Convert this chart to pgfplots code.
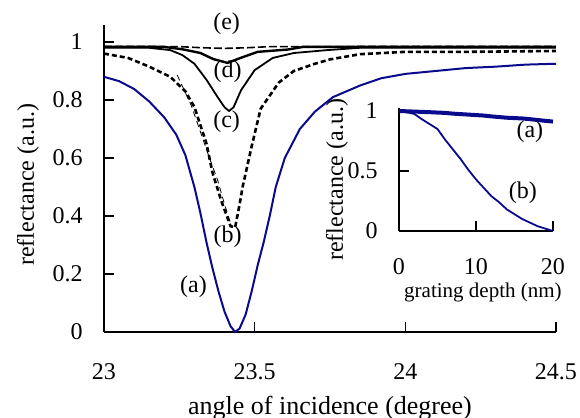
\documentclass[border=0pt]{standalone}
\usepackage{pgfplots}
\pgfplotsset{compat=1.18}
\usepackage{fontspec}
\setmainfont{Liberation Serif}
\definecolor{navy}{RGB}{10,10,140}

\begin{document}
\begin{tikzpicture}
\pgfplotsset{
  excel/.style={
    scale only axis,
    axis lines=left,
    axis line style={-, line width=1pt, black},
    tick align=inside,
    major tick length=5pt,
    tick style={black, line width=0.8pt},
    /pgf/number format/assume math mode=true,
    tick label style={font=\fontsize{12}{14}\selectfont},
    clip=false,
  }
}

% main chart
\begin{axis}[excel,
    at={(0,0)}, anchor=south west,
    width=226pt, height=153.5pt,
    xmin=23, xmax=24.5, ymin=0, ymax=1.0586,
    xtick={23,23.5,24,24.5}, xticklabels={23,23.5,24,24.5},
    ytick={0,0.2,0.4,0.6,0.8,1}, yticklabels={0,0.2,0.4,0.6,0.8,1},
    xticklabel style={anchor=center, yshift=-20pt},
    yticklabel style={anchor=east, inner sep=0pt, xshift=-10.5pt},
    xlabel={angle of incidence (degree)},
    ylabel={reflectance (a.u.)},
    every axis x label/.style={at={(axis description cs:0.5,-0.2476)}, anchor=center, font=\fontsize{13}{15}\selectfont},
    every axis y label/.style={at={(axis description cs:-0.168,0.479)}, anchor=center, rotate=90, font=\fontsize{12}{14}\selectfont},
]
% (a)
\addplot[navy, line width=1pt] coordinates {
  (23.00,0.880) (23.05,0.865) (23.10,0.838) (23.15,0.795) (23.20,0.740)
  (23.24,0.680) (23.27,0.610) (23.30,0.500) (23.32,0.410) (23.34,0.310)
  (23.36,0.220) (23.38,0.140) (23.40,0.070) (23.42,0.020) (23.435,0.000)
  (23.45,0.012) (23.47,0.060) (23.49,0.140) (23.51,0.230) (23.53,0.310)
  (23.55,0.400) (23.57,0.500) (23.60,0.600) (23.65,0.700) (23.70,0.760)
  (23.76,0.810) (23.85,0.850) (23.92,0.875) (24.00,0.890) (24.10,0.900)
  (24.20,0.910) (24.30,0.915) (24.40,0.922) (24.50,0.925)
};
% (b)
\addplot[black, line width=1.3pt, dash pattern=on 2.5pt off 1.5pt] coordinates {
  (23.00,0.960) (23.08,0.945) (23.15,0.915) (23.22,0.880) (23.27,0.830)
  (23.30,0.776) (23.34,0.650) (23.36,0.550) (23.39,0.450) (23.42,0.365)
  (23.435,0.360) (23.45,0.440) (23.46,0.500) (23.49,0.640) (23.52,0.770)
  (23.58,0.860) (23.63,0.900) (23.70,0.925) (23.75,0.940) (23.85,0.958)
  (24.00,0.966) (24.20,0.966) (24.50,0.969)
};
\addplot[black, line width=0.4pt, dash pattern=on 3pt off 2pt] coordinates {
  (23.243,0.886) (23.29,0.780) (23.32,0.690) (23.35,0.600)
  (23.377,0.524) (23.40,0.440) (23.42,0.376)
};
% (c)
\addplot[black, line width=0.9pt] coordinates {
  (23.00,0.980) (23.15,0.980) (23.22,0.972) (23.26,0.955) (23.30,0.925)
  (23.34,0.870) (23.377,0.810) (23.40,0.775) (23.415,0.762) (23.43,0.775)
  (23.455,0.834) (23.50,0.903) (23.56,0.945) (23.63,0.962) (23.74,0.972)
  (23.85,0.980) (24.50,0.980)
};
% (d)
\addplot[black, line width=1.2pt] coordinates {
  (23.00,0.983) (23.20,0.983) (23.26,0.975) (23.32,0.962) (23.363,0.941)
  (23.41,0.928) (23.453,0.945) (23.51,0.966) (23.61,0.974) (23.66,0.983)
  (24.50,0.983)
};
% (e)
\addplot[black, line width=0.8pt, dash pattern=on 4pt off 1.5pt] coordinates {
  (23.00,0.985) (23.25,0.984) (23.33,0.980) (23.40,0.978) (23.47,0.980)
  (23.55,0.984) (24.50,0.985)
};
\node[font=\fontsize{12}{14}\selectfont] at (axis cs:23.407,1.062) {(e)};
\node[font=\fontsize{12}{14}\selectfont] at (axis cs:23.41,0.897) {(d)};
\node[font=\fontsize{12}{14}\selectfont] at (axis cs:23.407,0.724) {(c)};
\node[font=\fontsize{12}{14}\selectfont] at (axis cs:23.41,0.328) {(b)};
\node[font=\fontsize{12}{14}\selectfont] at (axis cs:23.297,0.155) {(a)};
\end{axis}

% inset
\begin{axis}[excel,
    at={(147.5pt,50.5pt)}, anchor=south west,
    width=77pt, height=61.5pt,
    xmin=0, xmax=20, ymin=0, ymax=1.025,
    xtick={0,10,20}, xticklabels={0,10,20},
    ytick={0,0.5,1}, yticklabels={0,0.5,1},
    xticklabel style={anchor=center, yshift=-18pt},
    yticklabel style={anchor=east, inner sep=0pt, xshift=-10.5pt},
    xlabel={grating depth (nm)},
    ylabel={reflectance (a.u.)},
    every axis x label/.style={at={(axis description cs:0.545,-0.496)}, anchor=center, font=\fontsize{10.5}{12}\selectfont},
    every axis y label/.style={at={(axis description cs:-0.403,0.415)}, anchor=center, rotate=90, font=\fontsize{12}{14}\selectfont},
]
\addplot[navy, line width=2pt] coordinates {
  (0,1.000) (2,0.995) (4,0.990) (6,0.984) (7,0.978) (9,0.970) (11,0.962)
  (12,0.955) (14,0.944) (16,0.938) (17,0.932) (18,0.925) (19,0.918) (20,0.912)
};
\addplot[navy, line width=0.9pt] coordinates {
  (0,1.000) (1,0.990) (2,0.975) (3,0.930) (4,0.890) (5,0.850) (6,0.760)
  (7,0.680) (8,0.600) (9,0.510) (10,0.430) (11,0.360) (12,0.290) (13,0.240)
  (14,0.180) (15,0.140) (16,0.100) (17,0.070) (18,0.040) (19,0.020) (20,0.000)
};
\node[font=\fontsize{12}{14}\selectfont] at (axis cs:17.0,0.825) {(a)};
\node[font=\fontsize{12}{14}\selectfont] at (axis cs:16.1,0.317) {(b)};
\end{axis}

\pgfresetboundingbox
\path (-52pt,-43pt) rectangle (238pt,166pt);
\end{tikzpicture}
\end{document}
